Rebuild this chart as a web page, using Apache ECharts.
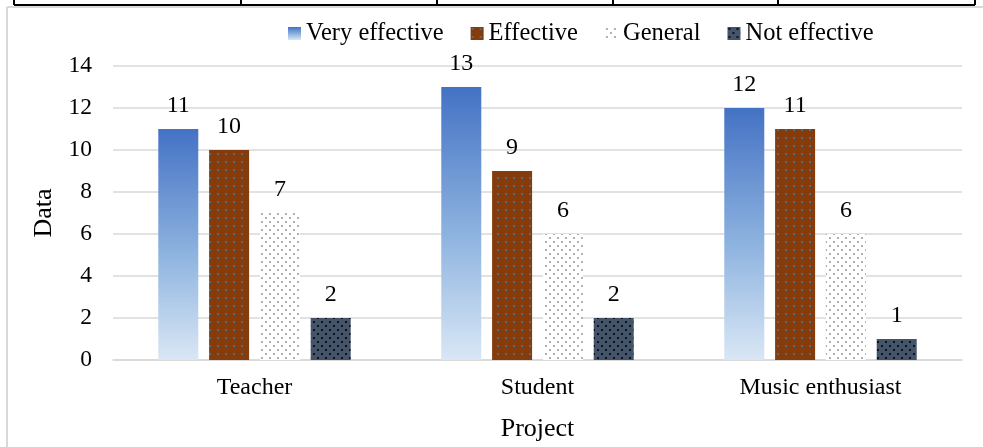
<!DOCTYPE html>
<html>
<head>
<meta charset="utf-8">
<script src="https://cdn.jsdelivr.net/npm/echarts@6/dist/echarts.min.js"></script>
<style>
  html, body { margin: 0; padding: 0; background: #fff; }
  #chart { width: 983px; height: 447px; }
</style>
</head>
<body>
<div id="chart"></div>
<script>
// data
const categories = ['Teacher', 'Student', 'Music enthusiast'];
const seriesNames = ['Very effective', 'Effective', 'General', 'Not effective'];
const veryEffective = [11, 13, 12];
const effective = [10, 9, 11];
const general = [7, 6, 6];
const notEffective = [2, 2, 1];

const FONT = '"Liberation Serif", "Times New Roman", serif';

// small dotted fills, like the excel pattern fills
function dots(bg, dot, size, stagger) {
  const c = document.createElement('canvas');
  c.width = size; c.height = size;
  const g = c.getContext('2d');
  g.fillStyle = bg;
  g.fillRect(0, 0, size, size);
  g.fillStyle = dot;
  g.fillRect(1, 1, 2, 2);
  if (stagger) g.fillRect(1 + size / 2, 1 + size / 2, 2, 2);
  return { image: c, repeat: 'repeat' };
}

const blueFade = new echarts.graphic.LinearGradient(0, 0, 0, 1, [
  { offset: 0, color: '#4472c4' },
  { offset: 0.55, color: '#8fb4e0' },
  { offset: 1, color: '#d9e7f5' }
]);

const chart = echarts.init(document.getElementById('chart'));

const labelStyle = {
  show: true,
  position: 'top',
  distance: 11,
  color: '#000',
  fontFamily: FONT,
  fontSize: 24
};

function bar(name, values, color) {
  return {
    name: name,
    type: 'bar',
    data: values,
    barGap: '27%',
    barCategoryGap: '32%',
    itemStyle: { color: color },
    label: labelStyle
  };
}

chart.setOption({
  backgroundColor: '#fff',
  animation: false,
  legend: {
    top: 16,
    left: 283,
    icon: 'rect',
    itemWidth: 13,
    itemHeight: 13,
    itemGap: 27,
    textStyle: { fontFamily: FONT, fontSize: 24.5, color: '#000' },
    data: seriesNames
  },
  grid: { left: 113, right: 21, top: 66, bottom: 84 },
  xAxis: {
    type: 'category',
    data: categories,
    name: 'Project',
    nameLocation: 'middle',
    nameGap: 56,
    nameTextStyle: { fontFamily: FONT, fontSize: 26, color: '#000' },
    axisLine: { lineStyle: { color: '#d9d9d9', width: 1.5 } },
    axisTick: { show: false },
    axisLabel: { fontFamily: FONT, fontSize: 24, color: '#000', margin: 16 }
  },
  yAxis: {
    type: 'value',
    min: 0,
    max: 14,
    interval: 2,
    name: 'Data',
    nameLocation: 'middle',
    nameGap: 55,
    nameTextStyle: { fontFamily: FONT, fontSize: 26, color: '#000' },
    axisLine: { show: false },
    axisTick: { show: false },
    axisLabel: { fontFamily: FONT, fontSize: 23.5, color: '#000', margin: 21 },
    splitLine: { lineStyle: { color: '#d9d9d9', width: 1.5 } }
  },
  series: [
    bar(seriesNames[0], veryEffective, blueFade),
    bar(seriesNames[1], effective, dots('#843c0c', '#5f6a7a', 8, false)),
    bar(seriesNames[2], general, dots('#ffffff', '#b0b0b0', 8, true)),
    bar(seriesNames[3], notEffective, dots('#44546a', '#111111', 8, true))
  ],
  graphic: [
    // bit of the table row above the figure
    { type: 'line', shape: { x1: 14, y1: 5, x2: 975, y2: 5 }, style: { stroke: '#000', lineWidth: 2 } },
    { type: 'line', shape: { x1: 14, y1: 0, x2: 14, y2: 5 }, style: { stroke: '#000', lineWidth: 2 } },
    { type: 'line', shape: { x1: 241, y1: 0, x2: 241, y2: 5 }, style: { stroke: '#000', lineWidth: 2 } },
    { type: 'line', shape: { x1: 437, y1: 0, x2: 437, y2: 5 }, style: { stroke: '#000', lineWidth: 2 } },
    { type: 'line', shape: { x1: 613, y1: 0, x2: 613, y2: 5 }, style: { stroke: '#000', lineWidth: 2 } },
    { type: 'line', shape: { x1: 778, y1: 0, x2: 778, y2: 5 }, style: { stroke: '#000', lineWidth: 2 } },
    { type: 'line', shape: { x1: 975, y1: 0, x2: 975, y2: 5 }, style: { stroke: '#000', lineWidth: 2 } },
    // chart frame
    { type: 'line', shape: { x1: 7, y1: 7, x2: 983, y2: 7 }, style: { stroke: '#d9d9d9', lineWidth: 2 } },
    { type: 'line', shape: { x1: 7, y1: 7, x2: 7, y2: 447 }, style: { stroke: '#d9d9d9', lineWidth: 2 } }
  ]
});
</script>
</body>
</html>
